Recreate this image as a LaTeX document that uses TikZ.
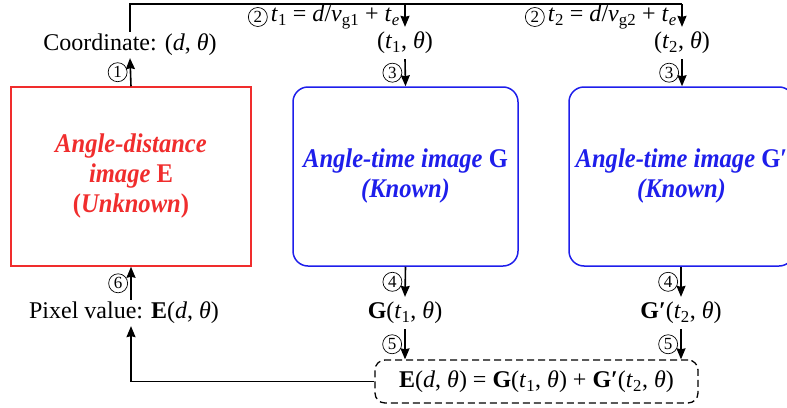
\documentclass[tikz,border=0pt]{standalone}
\usepackage{fontspec}
\setmainfont{Liberation Serif}
\newfontfamily\boxfont[FakeStretch=0.91]{Liberation Serif}
\usetikzlibrary{calc, positioning, arrows.meta}

\definecolor{boxred}{RGB}{240,45,45}
\definecolor{boxblue}{RGB}{30,30,235}

\newcommand{\iv}[1]{\textit{#1}}
\newcommand{\sbs}[1]{\textsubscript{#1}}

\begin{document}
\begin{tikzpicture}[x=1pt, y=-1pt,
  line/.style={line width=1.6pt},
  arr/.style={line width=1.6pt, -{Stealth[length=11pt, width=9pt, inset=1pt]}},
  lbl/.style={font=\fontsize{24}{28}\selectfont, inner sep=2pt},
  num/.style={circle, draw, line width=0.7pt, inner sep=0pt, minimum size=19pt,
    font=\fontsize{17}{17}\selectfont},
  imgbox/.style={draw, line width=1.5pt, minimum height=179pt, align=center,
    font=\boxfont\fontsize{27}{30}\selectfont\bfseries\itshape}]
\useasboundingbox (0,0) rectangle (787,407);

% Image boxes
\node[imgbox, boxred, text=boxred, minimum width=240pt] (imgE) at (131,176.5)
  {Angle-distance\\image \textup{E}\\\textup{(}Unknown\textup{)}};
\node[imgbox, boxblue, text=boxblue, rounded corners=15pt, minimum width=225pt] (imgG) at (405.5,176.5)
  {Angle-time image \textup{G}\\(Known)};
\node[imgbox, boxblue, text=boxblue, rounded corners=15pt, minimum width=225pt] (imgGp) at (681.5,176.5)
  {Angle-time image \textup{G′}\\(Known)};

% Coordinates above
\node[lbl] (coord) at (130,45) {Coordinate: (\iv{d}, \iv{θ})};
\node[lbl, inner sep=5pt] (tone) at (405,43) {(\iv{t}\sbs{1}, \iv{θ})};
\node[lbl, inner sep=5pt] (ttwo) at (682,43) {(\iv{t}\sbs{2}, \iv{θ})};
\coordinate (busL) at (130,4);
\coordinate (busR) at (682,4);
\node[lbl, anchor=east, inner sep=1pt] (eqone) at (401,17)
  {\iv{t}\sbs{1} = \iv{d}/\iv{v}\sbs{g1} + \iv{t}\sbs{\iv{e}}};
\node[num, left=2pt of eqone] (ctwoa) {2};
\node[lbl, anchor=east, inner sep=1pt] (eqtwo) at (678,17)
  {\iv{t}\sbs{2} = \iv{d}/\iv{v}\sbs{g2} + \iv{t}\sbs{\iv{e}}};
\node[num, left=2pt of eqtwo] (ctwob) {2};

% Values below
\node[lbl] (pix) at (124,313) {Pixel value: \textbf{E}(\iv{d}, \iv{θ})};
\node[lbl, inner sep=5pt] (gone) at (405,313) {\textbf{G}(\iv{t}\sbs{1}, \iv{θ})};
\node[lbl, inner sep=5pt] (gtwo) at (681,313) {\textbf{G′}(\iv{t}\sbs{2}, \iv{θ})};
\node[lbl, draw, dashed, dash pattern=on 7pt off 4pt, line width=1.3pt, rounded corners=10pt,
  minimum width=323pt, minimum height=43pt] (sum) at (536.5,381.5)
  {\textbf{E}(\iv{d}, \iv{θ}) = \textbf{G}(\iv{t}\sbs{1}, \iv{θ}) + \textbf{G′}(\iv{t}\sbs{2}, \iv{θ})};

% Connectors
\draw[line] (coord.north) -- (busL) -- (busR);
\draw[arr] (busL -| tone) -- (tone.north);
\draw[arr] (busR) -- (ttwo.north);
\draw[arr] (imgE.north) -- node[num, left=3pt] {1} (coord.south);
\draw[arr] (tone.south) -- node[num, left=3pt] {3} (imgG.north);
\draw[arr] (ttwo.south) -- node[num, left=3pt] {3} (imgGp.north -| ttwo);
\draw[arr] (imgG.south) -- node[num, left=3pt] {4} (gone.north);
\draw[arr] (imgGp.south -| gtwo) -- node[num, left=3pt] {4} (gtwo.north);
\draw[arr] (gone.south) -- node[num, left=3pt] {5} (gone.south |- sum.north);
\draw[arr] (gtwo.south) -- node[num, left=3pt] {5} (gtwo.south |- sum.north);
\draw[arr] (imgE.south |- pix.north) -- node[num, left=3pt] {6} (imgE.south);
\draw[arr] (sum.west) -| (imgE.south |- pix.south);
\end{tikzpicture}
\end{document}
